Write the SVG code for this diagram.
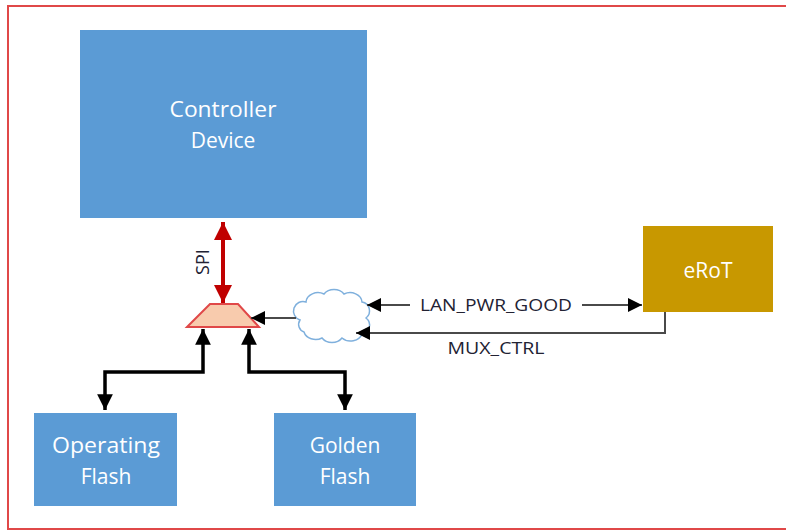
<svg xmlns="http://www.w3.org/2000/svg" width="786" height="531" viewBox="0 0 786 531">
<style>
.box{fill:#5B9BD5;}
.wt{fill:#ffffff;font-family:"Open Sans","Liberation Sans",sans-serif;font-size:21px;text-anchor:middle;}
.lbl{fill:#222233;font-family:"Open Sans","Liberation Sans",sans-serif;font-size:17px;text-anchor:middle;}
.sig{fill:none;stroke:#4a4a4a;stroke-width:2;}
.bus{fill:none;stroke:#000;stroke-width:3.5;}
</style>
<defs>
<marker id="ah" viewBox="0 0 10 10" refX="10" refY="5" markerWidth="4.5" markerHeight="4.5" markerUnits="strokeWidth" orient="auto-start-reverse"><path d="M0,0 L10,5 L0,10 z" fill="#000"/></marker>
<marker id="as" viewBox="0 0 10 10" refX="10" refY="5" markerWidth="7" markerHeight="7" markerUnits="strokeWidth" orient="auto-start-reverse"><path d="M0,0 L10,5 L0,10 z" fill="#000"/></marker>
<marker id="ar" viewBox="0 0 10 10" refX="10" refY="5" markerWidth="4.5" markerHeight="4.5" markerUnits="strokeWidth" orient="auto-start-reverse"><path d="M0,0 L10,5 L0,10 z" fill="#C00000"/></marker>
</defs>
<rect x="8" y="6" width="800" height="523" fill="#fff" stroke="#E04848" stroke-width="2"/>

<g id="controller">
<rect class="box" x="80" y="30" width="287" height="188"/>
<text class="wt" x="223" y="117" textLength="107" lengthAdjust="spacingAndGlyphs">Controller</text>
<text class="wt" x="223" y="148">Device</text>
</g>
<g id="erot">
<rect x="643" y="226" width="130" height="86" fill="#C89800"/>
<text class="wt" x="708" y="278">eRoT</text>
</g>
<g id="operating-flash">
<rect class="box" x="34" y="413" width="143" height="93"/>
<text class="wt" x="106" y="453" textLength="108" lengthAdjust="spacingAndGlyphs">Operating</text>
<text class="wt" x="106" y="484">Flash</text>
</g>
<g id="golden-flash">
<rect class="box" x="274" y="413" width="142" height="93"/>
<text class="wt" x="345" y="453">Golden</text>
<text class="wt" x="345" y="484">Flash</text>
</g>
<g id="mux">
<polygon points="187,327 210,304 238,304 259,327" fill="#F8CBAD" stroke="#E04848" stroke-width="2"/>
</g>
<g id="cloud">
<path d="M300,320 a8,8 0 0 1 6,-18 a12,10 0 0 1 18,-8 a12,10 0 0 1 20,0 a12,10 0 0 1 18,8 a9,9 0 0 1 4,16 a9,9 0 0 1 -4,16 a12,10 0 0 1 -20,4 a12,10 0 0 1 -20,0 a12,10 0 0 1 -18,-6 a8,8 0 0 1 -4,-12 z" fill="#fff" stroke="#7FB0DD" stroke-width="1.5"/>
</g>

<g id="connectors">
<line x1="223" y1="222" x2="223" y2="303" stroke="#C00000" stroke-width="4" marker-start="url(#ar)" marker-end="url(#ar)"/>
<text x="209" y="262" fill="#222233" font-family="'Open Sans','Liberation Sans',sans-serif" font-size="18" text-anchor="middle" transform="rotate(-90 209 262)">SPI</text>
<path class="bus" d="M105,410 V372 H203 V329" marker-start="url(#ah)" marker-end="url(#ah)"/>
<path class="bus" d="M249,329 V372 H345 V410" marker-start="url(#ah)" marker-end="url(#ah)"/>
<path class="sig" d="M296,318 H251" marker-end="url(#as)"/>
<path class="sig" d="M410,305 H367" marker-end="url(#as)"/>
<path class="sig" d="M582,305 H642" marker-end="url(#as)"/>
<path class="sig" d="M665,312 V333 H356" marker-end="url(#as)"/>
<text class="lbl" x="496" y="311" textLength="152" lengthAdjust="spacingAndGlyphs">LAN_PWR_GOOD</text>
<text class="lbl" x="496" y="354" textLength="97" lengthAdjust="spacingAndGlyphs">MUX_CTRL</text>
</g>
</svg>
